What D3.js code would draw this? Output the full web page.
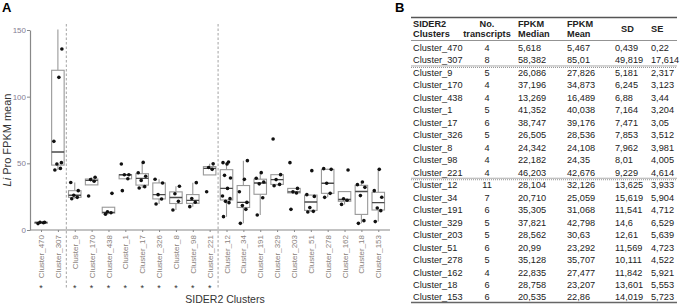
<!DOCTYPE html>
<html>
<head>
<meta charset="utf-8">
<script src="https://cdn.jsdelivr.net/npm/d3@7"></script>
<style>
  body { margin: 0; background: #fff; }
  svg { font-family: Arial, "Liberation Sans", sans-serif; }
</style>
</head>
<body>
<svg id="chart" width="685" height="305"></svg>
<script>
// ---- data ----
const clusters = ["Cluster_470", "Cluster_307", "Cluster_9", "Cluster_170", "Cluster_438", "Cluster_1",
    "Cluster_17", "Cluster_326", "Cluster_8", "Cluster_98", "Cluster_221", "Cluster_12", "Cluster_34",
    "Cluster_191", "Cluster_329", "Cluster_203", "Cluster_51", "Cluster_278", "Cluster_162", "Cluster_18",
    "Cluster_153"];

// FPKM mean per transcript (one value above 150 is off the panel)
const points = [
    [4.8, 5.45, 5.79, 5.83],
    [45, 46.2, 49.5, 50.5, 66.5, 114.5, 135.7, 172],
    [23.4, 24.5, 26.1, 29.5, 35.6],
    [25.5, 36.6, 37.8, 39.6],
    [11.9, 12.9, 13.6, 27.5],
    [29.5, 38.4, 41.4, 41.4, 49.5],
    [31.5, 32.5, 37.2, 40.3, 42.9, 50.7],
    [19.5, 23.3, 26.5, 35.3, 38.1],
    [15, 21.5, 27.2, 32.8],
    [17.5, 20.8, 23.6, 35.5],
    [28.7, 45.5, 46.9, 49.6],
    [10, 20.5, 21.5, 23.5, 25.5, 31.2, 39, 41, 49.5, 50.5, 51],
    [5, 15.5, 18.3, 20.7, 28.7, 38, 52],
    [11.3, 24.2, 34.6, 36, 38.8, 43],
    [33.2, 34.2, 37.8, 41.5, 68.3],
    [15.5, 27.8, 28.6, 31.2, 50.5],
    [13.5, 14, 16.8, 25.2, 26.5, 44.5],
    [24.5, 27.5, 35.1, 45.5, 46],
    [19.2, 22.3, 23.4, 45],
    [5, 7, 25.8, 32, 34, 36],
    [6.3, 14.5, 16.5, 24.6, 29.5, 45.5]
];

const starred = ["Cluster_470", "Cluster_9", "Cluster_170", "Cluster_438", "Cluster_1", "Cluster_17",
    "Cluster_326", "Cluster_8", "Cluster_98", "Cluster_221"];
const groupEnds = ["Cluster_307", "Cluster_221"];
const yTicks = [0, 50, 100, 150];

// table B
const nTranscripts = ["4", "8", "5", "4", "4", "5", "6", "5", "4", "4", "4", "11", "7", "6", "5", "5", "6", "5", "4", "6", "6"];
const fpkmMedian = ["5,618", "58,382", "26,086", "37,196", "13,269", "41,352", "38,747", "26,505", "24,342", "22,182",
    "46,203", "28,104", "20,710", "35,305", "37,821", "28,562", "20,99", "35,128", "22,835", "28,758", "20,535"];
const fpkmMean = ["5,467", "85,01", "27,826", "34,873", "16,489", "40,038", "39,176", "28,536", "24,108", "24,35",
    "42,676", "32,126", "25,059", "31,068", "42,798", "30,63", "23,292", "35,707", "27,477", "23,207", "22,86"];
const sdValues = ["0,439", "49,819", "5,181", "6,245", "6,88", "7,164", "7,471", "7,853", "7,962", "8,01",
    "9,229", "13,625", "15,619", "11,541", "14,6", "12,61", "11,569", "10,111", "11,842", "13,601", "14,019"];
const seValues = ["0,22", "17,614", "2,317", "3,123", "3,44", "3,204", "3,05", "3,512", "3,981", "4,005",
    "4,614", "3,933", "5,904", "4,712", "6,529", "5,639", "4,723", "4,522", "5,921", "5,553", "5,723"];
const headers = [["SIDER2", "Clusters"], ["No.", "transcripts"], ["FPKM", "Median"], ["FPKM", "Mean"], ["SD"], ["SE"]];

// ---- chart A ----
const svg = d3.select("#chart");
const plot = {left: 30, right: 390, top: 30, bottom: 230};

const x = d3.scalePoint().domain(clusters).range([32.6, 386.7]).padding(0.5);
const y = d3.scaleLinear().domain([0, 150]).range([plot.bottom, plot.top]);
const boxW = 12.5;
const jitter = [-3, 2.5, -1, 3.5, -4, 1, 4, -2, 0.5, -3.5, 2];

svg.append("text").attr("x", 2).attr("y", 12)
    .attr("font-size", 13).attr("font-weight", "bold").text("A");

svg.append("defs").append("clipPath").attr("id", "panel")
    .append("rect")
    .attr("x", plot.left).attr("y", plot.top - 0.5)
    .attr("width", plot.right - plot.left).attr("height", plot.bottom - plot.top + 1);

// group separators
groupEnds.forEach(c => {
    const i = clusters.indexOf(c);
    const xs = (x(clusters[i]) + x(clusters[i + 1])) / 2;
    svg.append("line")
        .attr("x1", xs).attr("x2", xs).attr("y1", 24).attr("y2", 289)
        .attr("stroke", "#999").attr("stroke-width", 0.9).attr("stroke-dasharray", "2.5,2");
});

const stats = points.map((vals, i) => {
    const s = vals.slice().sort(d3.ascending);
    const q1 = d3.quantile(s, 0.25), med = d3.quantile(s, 0.5), q3 = d3.quantile(s, 0.75);
    const iqr = q3 - q1;
    const lo = d3.min(s.filter(v => v >= q1 - 1.5 * iqr));
    const hi = d3.max(s.filter(v => v <= q3 + 1.5 * iqr));
    return {name: clusters[i], q1, med, q3, lo, hi, vals: s};
});

const panel = svg.append("g").attr("clip-path", "url(#panel)");
const boxes = panel.selectAll("g.box").data(stats).join("g").attr("class", "box");

boxes.append("line")
    .attr("x1", d => x(d.name)).attr("x2", d => x(d.name))
    .attr("y1", d => y(d.q3)).attr("y2", d => y(d.hi))
    .attr("stroke", "#999").attr("stroke-width", 1.1);
boxes.append("line")
    .attr("x1", d => x(d.name)).attr("x2", d => x(d.name))
    .attr("y1", d => y(d.q1)).attr("y2", d => y(d.lo))
    .attr("stroke", "#999").attr("stroke-width", 1.1);
boxes.append("rect")
    .attr("x", d => x(d.name) - boxW / 2).attr("width", boxW)
    .attr("y", d => y(d.q3)).attr("height", d => Math.max(1, y(d.q1) - y(d.q3)))
    .attr("fill", "#fff").attr("stroke", "#999").attr("stroke-width", 1.1);
boxes.append("line")
    .attr("x1", d => x(d.name) - boxW / 2).attr("x2", d => x(d.name) + boxW / 2)
    .attr("y1", d => y(d.med)).attr("y2", d => y(d.med))
    .attr("stroke", "#4a4a4a").attr("stroke-width", 1.4);

boxes.selectAll("circle")
    .data(d => d.vals.map((v, j) => ({name: d.name, v, j})))
    .join("circle")
    .attr("cx", d => x(d.name) + jitter[d.j % jitter.length])
    .attr("cy", d => y(d.v))
    .attr("r", 1.8)
    .attr("fill", "#111");

// axes
const yAxis = svg.append("g")
    .attr("transform", `translate(${plot.left},0)`)
    .call(d3.axisLeft(y).tickValues(yTicks).tickSize(3).tickSizeOuter(0));
yAxis.select(".domain").attr("stroke", "#888").attr("stroke-width", 1.2);
yAxis.selectAll(".tick line").attr("stroke", "#888");
yAxis.selectAll(".tick text").attr("fill", "#857d93").attr("font-size", 8).attr("x", -4);

const xAxis = svg.append("g")
    .attr("transform", `translate(0,${plot.bottom})`)
    .call(d3.axisBottom(x).tickSize(2).tickSizeOuter(0));
xAxis.select(".domain").attr("d", `M${plot.left},0H${plot.right}`).attr("stroke", "#888").attr("stroke-width", 1.2);
xAxis.selectAll(".tick line").attr("stroke", "#888");
xAxis.selectAll(".tick text")
    .attr("fill", "#8a827c").attr("font-size", 8)
    .attr("transform", "rotate(-90)")
    .attr("text-anchor", "end").attr("dy", "0.32em")
    .attr("x", -5).attr("y", 0);

svg.selectAll("text.star").data(starred).join("text")
    .attr("class", "star")
    .attr("x", d => x(d)).attr("y", 291)
    .attr("text-anchor", "middle").attr("font-size", 9).attr("fill", "#333")
    .text("*");

svg.append("text")
    .attr("x", 225).attr("y", 303)
    .attr("text-anchor", "middle").attr("font-size", 10.5).attr("fill", "#333")
    .text("SIDER2 Clusters");

const yTitle = svg.append("text")
    .attr("transform", "translate(11,140) rotate(-90)")
    .attr("text-anchor", "middle").attr("font-size", 11).attr("fill", "#333");
yTitle.append("tspan").attr("font-style", "italic").text("Li");
yTitle.append("tspan").text(" Pro FPKM mean");

// ---- table B ----
svg.append("text").attr("x", 395).attr("y", 12)
    .attr("font-size", 13).attr("font-weight", "bold").text("B");

const tbl = {left: 411, right: 677, top: 17.5, headBottom: 40.5};
const colX = [413, 487, 518, 567, 615, 651];
const colAnchor = ["start", "middle", "start", "start", "start", "start"];
const row = d3.scaleBand().domain(clusters).range([41.5, 303.5]);

svg.append("line").attr("x1", tbl.left).attr("x2", tbl.right).attr("y1", tbl.top).attr("y2", tbl.top)
    .attr("stroke", "#555").attr("stroke-width", 1.5);
svg.append("line").attr("x1", tbl.left).attr("x2", tbl.right).attr("y1", tbl.headBottom).attr("y2", tbl.headBottom)
    .attr("stroke", "#777").attr("stroke-width", 0.8);

headers.forEach((lines, c) => {
    const t = svg.append("text")
        .attr("x", colX[c] + (c === 4 ? 6 : 0))
        .attr("text-anchor", colAnchor[c])
        .attr("font-size", 9.2).attr("font-weight", "bold").attr("fill", "#222");
    if (lines.length === 1) {
        t.attr("y", 32).text(lines[0]);
    } else {
        t.append("tspan").attr("x", colX[c]).attr("y", 27).text(lines[0]);
        t.append("tspan").attr("x", colX[c]).attr("y", 37).text(lines[1]);
    }
});

const columns = [clusters, nTranscripts, fpkmMedian, fpkmMean, sdValues, seValues];
columns.forEach((vals, c) => {
    svg.append("g").selectAll("text").data(vals).join("text")
        .attr("x", colX[c])
        .attr("y", (d, i) => row(clusters[i]) + row.bandwidth() / 2)
        .attr("dy", "0.35em")
        .attr("text-anchor", colAnchor[c])
        .attr("font-size", 9.2).attr("fill", "#222")
        .text(d => d);
});

groupEnds.forEach(c => {
    const yb = row(c) + row.bandwidth() - 0.5;
    svg.append("line").attr("x1", tbl.left).attr("x2", tbl.right).attr("y1", yb).attr("y2", yb)
        .attr("stroke", "#888").attr("stroke-width", 0.7);
    svg.append("line").attr("x1", tbl.left).attr("x2", tbl.right).attr("y1", yb + 1.5).attr("y2", yb + 1.5)
        .attr("stroke", "#777").attr("stroke-width", 0.8).attr("stroke-dasharray", "1,1");
});
const yEnd = row(clusters[clusters.length - 1]) + row.bandwidth() - 1;
svg.append("line").attr("x1", tbl.left).attr("x2", tbl.right).attr("y1", yEnd).attr("y2", yEnd)
    .attr("stroke", "#666").attr("stroke-width", 1.5);
</script>
</body>
</html>
